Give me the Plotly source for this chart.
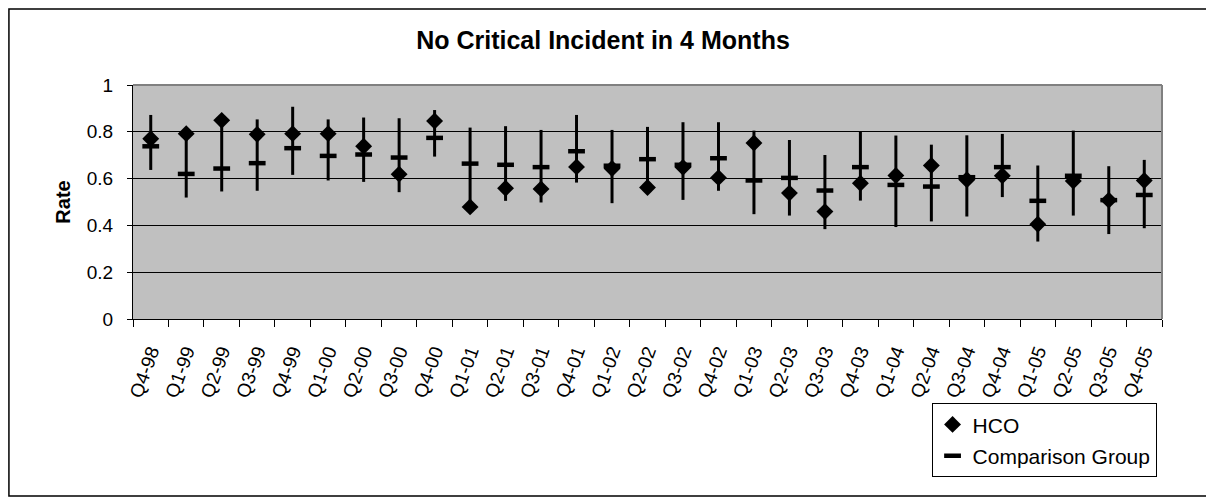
import plotly.graph_objects as go

categories = ["Q4-98", "Q1-99", "Q2-99", "Q3-99", "Q4-99", "Q1-00", "Q2-00", "Q3-00",
              "Q4-00", "Q1-01", "Q2-01", "Q3-01", "Q4-01", "Q1-02", "Q2-02", "Q3-02",
              "Q4-02", "Q1-03", "Q2-03", "Q3-03", "Q4-03", "Q1-04", "Q2-04", "Q3-04",
              "Q4-04", "Q1-05", "Q2-05", "Q3-05", "Q4-05"]
hco = [0.770, 0.792, 0.849, 0.789, 0.792, 0.792, 0.738, 0.619, 0.846, 0.479,
       0.559, 0.556, 0.650, 0.643, 0.562, 0.648, 0.604, 0.752, 0.538, 0.459,
       0.580, 0.613, 0.656, 0.595, 0.612, 0.405, 0.590, 0.508, 0.592]
comparison = [0.738, 0.620, 0.643, 0.666, 0.730, 0.697, 0.703, 0.690, 0.774, 0.664,
              0.659, 0.649, 0.717, 0.655, 0.683, 0.659, 0.687, 0.592, 0.603, 0.549,
              0.649, 0.573, 0.566, 0.606, 0.649, 0.505, 0.612, 0.508, 0.530]
upper = [0.872, 0.790, 0.840, 0.853, 0.907, 0.853, 0.861, 0.858, 0.893, 0.818,
         0.824, 0.808, 0.872, 0.808, 0.821, 0.841, 0.841, 0.805, 0.765, 0.701,
         0.802, 0.784, 0.745, 0.785, 0.791, 0.656, 0.805, 0.653, 0.680]
lower = [0.637, 0.519, 0.545, 0.548, 0.616, 0.592, 0.586, 0.542, 0.694, 0.480,
         0.505, 0.498, 0.583, 0.495, 0.560, 0.509, 0.548, 0.448, 0.442, 0.384,
         0.506, 0.393, 0.417, 0.438, 0.521, 0.331, 0.442, 0.363, 0.388]
y_ticks = [0, 0.2, 0.4, 0.6, 0.8, 1]
y_tick_labels = ["0", "0.2", "0.4", "0.6", "0.8", "1"]

FONT = "Liberation Sans, Arial, sans-serif"

seg_x, seg_y = [], []
for c, lo, hi in zip(categories, lower, upper):
    seg_x += [c, c, None]
    seg_y += [lo, hi, None]

fig = go.Figure()
fig.add_trace(go.Scatter(x=seg_x, y=seg_y, mode="lines",
                         line=dict(color="black", width=3),
                         showlegend=False, hoverinfo="skip"))
fig.add_trace(go.Scatter(x=categories, y=hco, mode="markers", name="HCO",
                         legendgroup="a",
                         marker=dict(symbol="diamond", size=13, color="black",
                                     line=dict(width=0))))
fig.add_trace(go.Scatter(x=categories, y=comparison, mode="markers",
                         name="Comparison Group", legendgroup="b",
                         marker=dict(symbol="line-ew", size=12, color="black",
                                     line=dict(color="black", width=4.5))))

W, H = 1206, 490
fig.update_layout(
    width=W, height=H,
    margin=dict(l=125, r=52, t=77, b=179),
    paper_bgcolor="white",
    plot_bgcolor="#C0C0C0",
    font=dict(family=FONT, size=19, color="black"),
    title=dict(text="<b>No Critical Incident in 4 Months</b>",
               x=595 / W, xref="container", xanchor="center",
               y=1 - 32 / H, yref="container", yanchor="middle",
               font=dict(family=FONT, size=25, color="black")),
    showlegend=True,
    legend=dict(x=0.9947, xanchor="right", y=-0.36, yanchor="top",
                bgcolor="white", bordercolor="black", borderwidth=1,
                font=dict(family=FONT, size=21, color="black"),
                itemwidth=30, traceorder="grouped", tracegroupgap=1),
    xaxis=dict(type="category", categoryorder="array", categoryarray=categories,
               range=[-0.5, len(categories) - 0.5],
               showline=True, linecolor="black", linewidth=1,
               ticks="outside", ticklen=7, tickcolor="black", tickwidth=1,
               tickson="boundaries", tickangle=-70, showgrid=False,
               tickfont=dict(family=FONT, size=19, color="black"),
               ticklabelstandoff=13),
    yaxis=dict(range=[0, 1], tickvals=y_ticks, ticktext=y_tick_labels,
               showline=True, linecolor="black", linewidth=1,
               ticks="outside", ticklen=5, tickcolor="black",
               showgrid=True, gridcolor="black", gridwidth=1,
               zeroline=False,
               tickfont=dict(family=FONT, size=19, color="black"),
               ticklabelstandoff=10,
               title=dict(text="<b>Rate</b>", standoff=10,
                          font=dict(family=FONT, size=20, color="black"))),
    shapes=[
        dict(type="line", xref="paper", yref="paper", x0=0, x1=1, y0=1, y1=1,
             line=dict(color="#808080", width=2), layer="above"),
        dict(type="line", xref="paper", yref="paper", x0=1, x1=1, y0=0, y1=1,
             line=dict(color="#808080", width=2), layer="above"),
        dict(type="rect", xref="paper", yref="paper",
             x0=(1 - 125) / 1028.4, x1=(1203 - 125) / 1028.4,
             y0=(311.3 - 488.5) / 234.3, y1=(311.3 - 1) / 234.3,
             line=dict(color="black", width=1.5), layer="above"),
    ],
)

fig.write_html("out.html")
